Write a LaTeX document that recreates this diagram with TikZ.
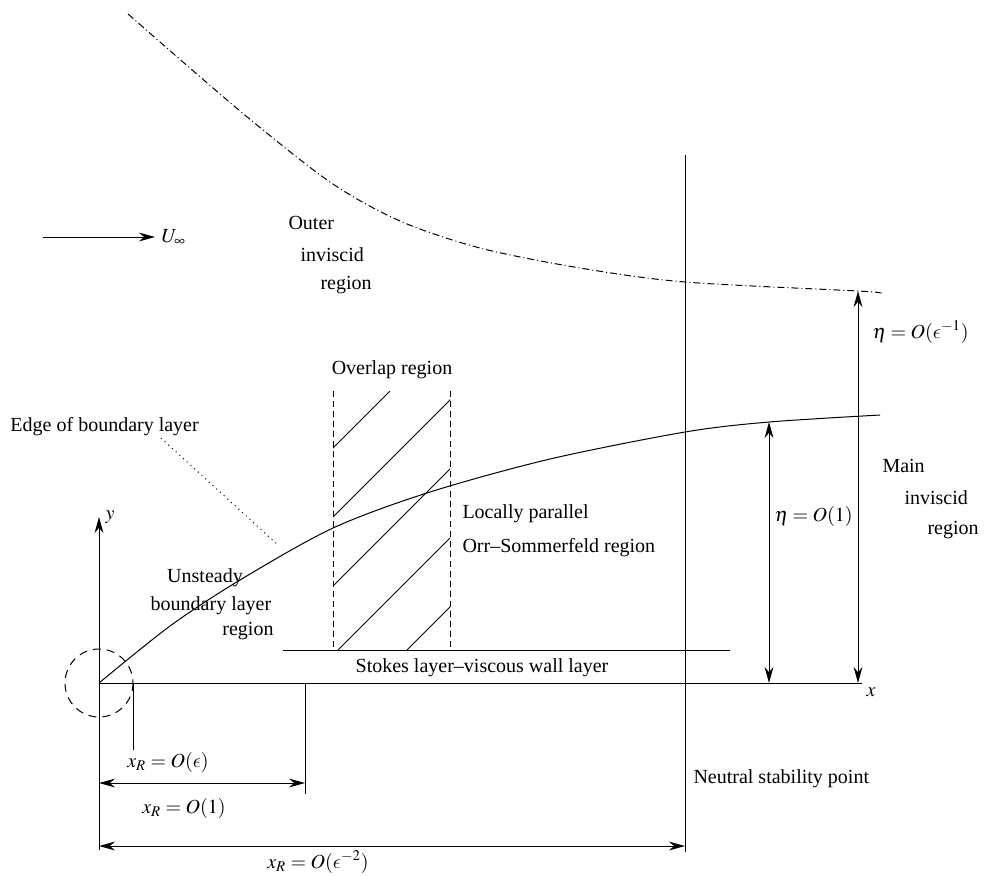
\documentclass[tikz,border=0pt]{standalone}
\usepackage{mathptmx}
\usepackage[no-math]{fontspec}
\setmainfont{Liberation Serif}
\DeclareSymbolFont{cmlettres}{OML}{cmm}{m}{it}
\DeclareMathSymbol{\eps}{\mathord}{cmlettres}{"0F}
\usetikzlibrary{calc}
\usetikzlibrary{arrows.meta}

\begin{document}
\begin{tikzpicture}[x=0.5pt,y=-0.5pt,line width=0.5pt,
    >={Stealth[length=8pt,width=4.4pt,inset=2.6pt]},
    txt/.style={inner sep=0pt},
    dashdot/.style={dash pattern=on 3.5pt off 1.5pt on 0.5pt off 1.5pt},
    tirets/.style={dash pattern=on 3pt off 2pt}]
\useasboundingbox (0,0) rectangle (984,875);

% Points de base
\coordinate (O) at (99,683);
\coordinate (X) at (862,683);
\coordinate (Ybas) at (99,850);
\coordinate (Y) at (99,517);

% Axes
\draw (O) -- (X) node[below right,inner sep=2pt]{$x$};
\draw[->] (Ybas) -- (Y) node[right,inner sep=3pt]{$y$};

% Bord de la couche limite
\draw plot[smooth] coordinates {(99,683) (170,626) (240,580) (333,528) (430,492) (550,459) (685,432) (769,422) (880,415)};

% Limite de la region exterieure
\draw[dashdot] plot[smooth] coordinates {(128,14) (240,111) (330,182) (400,221) (480,248) (580,268) (685,282) (858,291) (880,293)};

% Region de recouvrement (hachures)
\coordinate (Rhg) at (333,391);
\coordinate (Rbg) at (333,650);
\coordinate (Rhd) at (450,391);
\coordinate (Rbd) at (450,650);
\begin{scope}
  \clip (Rhg) rectangle (Rbd);
  \foreach \c in {781,850,919,988,1057}
    \draw ({\c-650},650) -- ({\c-391},391);
\end{scope}
\draw[tirets] (Rhg) -- (Rbg);
\draw[tirets] (Rhd) -- (Rbd);
\node[txt] (recouv) at (392,370) {Overlap region};

% Couche de Stokes
\coordinate (Sg) at (283,650);
\coordinate (Sd) at (730,650);
\draw (Sg) -- (Sd);
\node[txt] (stokes) at (482,668) {Stokes layer--viscous wall layer};

% Point de stabilite neutre
\coordinate (Nh) at (685,155);
\coordinate (Nb) at (685,852);
\draw (Nh) -- (Nb);
\node[txt,anchor=west] (neutre) at (693,779) {Neutral stability point};

% Epaisseurs
\coordinate (E1h) at (769,422);
\coordinate (E1b) at (769,683);
\coordinate (E2h) at (858,291);
\coordinate (E2b) at (858,683);
\draw[<->] (E1b) -- (E1h);
\draw[<->] (E2b) -- (E2h);
\node[txt,anchor=west] (eta1) at (774,516) {$\eta = O(1)$};
\node[txt,anchor=west] (eta2) at (872,332) {$\eta = O(\eps^{-1})$};

% Vitesse amont
\coordinate (Ug) at (43,237);
\coordinate (Ud) at (155,237);
\draw[->] (Ug) -- (Ud) node[right,inner sep=3pt]{$U_\infty$};

% Cotes en x
\coordinate (C1h) at (133,683);
\coordinate (C1b) at (133,750);
\draw (C1h) -- (C1b);
\node[txt] (xr1) at (168,762) {$x_R = O(\eps)$};
\coordinate (C2h) at (305,683);
\coordinate (C2b) at (305,794);
\draw (C2h) -- (C2b);
\draw[<->] (99,783) coordinate (A2g) -- (305,783) coordinate (A2d);
\node[txt] (xr2) at (184,808) {$x_R = O(1)$};
\draw[<->] (99,846) coordinate (A3g) -- (685,846) coordinate (A3d);
\node[txt] (xr3) at (318,862) {$x_R = O(\eps^{-2})$};

% Cercle autour du bord d'attaque
\draw[dash pattern=on 4pt off 3pt] (O) circle (34);

% Textes des regions
\node[txt,anchor=west] (bord) at (10,427) {Edge of boundary layer};
\coordinate (Bd) at (161,438);
\coordinate (Bf) at (278,545);
\draw[dotted] (Bd) -- (Bf);

\node[txt] (inst1) at (205,578) {Unsteady};
\node[txt] (inst2) at (211,606) {boundary layer};
\node[txt,anchor=east] (inst3) at (274,631) {region};

\node[txt,anchor=west] (para1) at (462,514) {Locally parallel};
\node[txt,anchor=west] (para2) at (462,548) {Orr--Sommerfeld region};

\node[txt,anchor=west] (ext1) at (288,223) {Outer};
\node[txt,anchor=west] (ext2) at (300,255) {inviscid};
\node[txt,anchor=west] (ext3) at (320,285) {region};

\node[txt,anchor=west] (main1) at (882,466) {Main};
\node[txt,anchor=west] (main2) at (904,498) {inviscid};
\node[txt,anchor=west] (main3) at (927,530) {region};

\end{tikzpicture}
\end{document}
